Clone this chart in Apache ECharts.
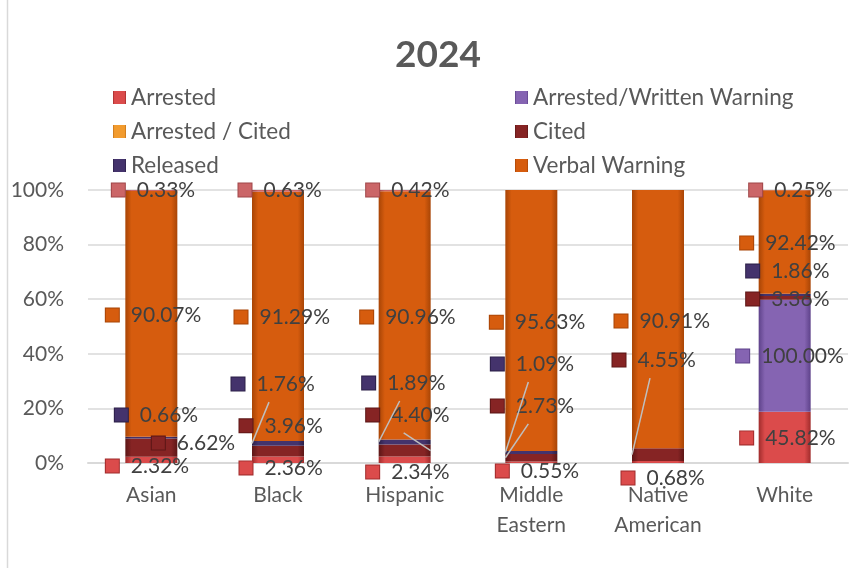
<!DOCTYPE html>
<html>
<head>
<meta charset="utf-8">
<script src="https://cdn.jsdelivr.net/npm/echarts@6/dist/echarts.min.js"></script>
<style>html,body{margin:0;padding:0;background:#fff;}#c{width:863px;height:568px;}</style>
</head>
<body>
<div id="c"></div>
<script>
// ---- data (values as printed on the chart's data labels) ----
const title = '2024';
const categories = ['Asian', 'Black', 'Hispanic', 'Middle Eastern', 'Native American', 'White'];
const arrested        = [2.32, 2.36, 2.34, 0.55, 0.68, 45.82];
const arrestedWritten = [null, null, null, null, null, 100.00];
const arrestedCited   = [null, null, null, null, null, null];
const cited           = [6.62, 3.96, 4.40, 2.73, 4.55, 3.36];
const released        = [0.66, 1.76, 1.89, 1.09, null, 1.86];
const verbalWarning   = [90.07, 91.29, 90.96, 95.63, 90.91, 92.42];
const other           = [0.33, 0.63, 0.42, null, null, 0.25]; // unlabelled top segment (no legend entry)
const yTicks = [0, 20, 40, 60, 80, 100];

// ---- styles / layout (kept apart from data) ----
const FONT = 'Lato, "Open Sans", sans-serif';
const LABEL_SIZE = 21;
const BAR_W = 52;
const seriesDefs = [
  {name: 'Arrested',                 data: arrested,        main: '#DB4B4B', dark: '#A02C2C'},
  {name: 'Arrested/Written Warning', data: arrestedWritten, main: '#8564B2', dark: '#5E428A'},
  {name: 'Arrested / Cited',         data: arrestedCited,   main: '#F29B2E', dark: '#C2721A'},
  {name: 'Cited',                    data: cited,           main: '#862424', dark: '#5C1616'},
  {name: 'Released',                 data: released,        main: '#44336C', dark: '#2C2048'},
  {name: 'Verbal Warning',           data: verbalWarning,   main: '#D65C0E', dark: '#A84506'},
  {name: 'Other',                    data: other,           main: '#CB6668', dark: '#A04648'}
];
// label anchor: [marker-centre offset from bar centre in px, vertical position on the % axis]
const labelPos = [
  [[-39,-1.1],[-32,-1.8],[-32,-3.3],[-29,-2.9],[-30,-5.5],[-38,9.2]],
  [null,null,null,null,null,[-42,39.2]],
  [null,null,null,null,null,null],
  [[7,7.3],[-32,13.6],[-32,17.6],[-34,20.9],[-39,37.7],[-32,60.1]],
  [[-30,17.6],[-40,28.9],[-36,29.3],[-34,36.3],null,[-32,70.3]],
  [[-39,54.2],[-37,53.5],[-38,53.5],[-35,51.6],[-37,52.0],[-38,80.6]],
  [[-33,100],[-33,100],[-32,100],null,null,[-29,100]]
];
// leader lines: [series index, category index, side of the bar the line reaches]
const leaders = [[4, 1, -1], [4, 2, -1], [3, 2, 1], [4, 3, -1], [3, 3, -1], [3, 4, -1]];

const totals = categories.map((_, i) => seriesDefs.reduce((s, d) => s + (d.data[i] == null ? 0 : d.data[i]), 0));
const pct = seriesDefs.map(d => d.data.map((v, i) => v == null ? null : v / totals[i] * 100));

function grad(main, dark) {
  return new echarts.graphic.LinearGradient(0, 0, 1, 0, [
    {offset: 0, color: dark}, {offset: 0.12, color: main},
    {offset: 0.88, color: main}, {offset: 1, color: dark}
  ]);
}

const chart = echarts.init(document.getElementById('c'), null, {renderer: 'canvas'});

const series = seriesDefs.map((d, si) => ({
  name: d.name,
  type: 'bar',
  stack: 'total',
  barWidth: BAR_W,
  itemStyle: {color: grad(d.main, d.dark)},
  data: d.data.map((v, i) => v == null ? null : {value: pct[si][i], raw: v}),
  label: {
    show: true,
    position: 'inside',
    formatter: p => '{m|}{t|' + p.data.raw.toFixed(2) + '%}',
    rich: {
      m: {width: 13, height: 13, backgroundColor: d.main, borderColor: d.dark, borderWidth: 1},
      t: {fontSize: LABEL_SIZE, fontFamily: FONT, color: '#404040', padding: [0, 0, 0, 12]}
    }
  },
  labelLayout: function (params) {
    const L = labelPos[si][params.dataIndex];
    if (!L) return {};
    const cx = params.rect.x + params.rect.width / 2;
    let y;
    try { y = chart.convertToPixel({yAxisIndex: 0}, L[1]); } catch (e) { y = null; }
    if (y == null || isNaN(y)) y = 190 + (100 - L[1]) / 100 * 273;
    return {x: cx + L[0] - 6.5, y: y, align: 'left', verticalAlign: 'middle'};
  }
}));

const legendCommon = {
  orient: 'vertical', icon: 'rect', itemWidth: 13, itemHeight: 13, itemGap: 11, padding: 0,
  textStyle: {fontSize: 22.5, fontFamily: FONT, color: '#595959', lineHeight: 22.5},
  selectedMode: false
};

chart.setOption({
  animation: false,
  backgroundColor: '#fff',
  title: {
    text: title, left: 395, top: 37, padding: 0,
    textStyle: {fontSize: 37, fontWeight: 'bold', fontFamily: FONT, color: '#595959'}
  },
  legend: [
    Object.assign({left: 113, top: 86, data: ['Arrested', 'Arrested / Cited', 'Released']}, legendCommon),
    Object.assign({left: 515, top: 86, data: ['Arrested/Written Warning', 'Cited', 'Verbal Warning']}, legendCommon)
  ],
  grid: {left: 88, right: 15, top: 190, bottom: 105},
  xAxis: {
    type: 'category', data: categories,
    axisLine: {lineStyle: {color: '#D9D9D9', width: 2}},
    axisTick: {show: false},
    axisLabel: {
      fontSize: 21, fontFamily: FONT, color: '#595959', lineHeight: 30, margin: 17,
      interval: 0, formatter: v => v.replace(' ', '\n')
    }
  },
  yAxis: {
    type: 'value', min: yTicks[0], max: yTicks[yTicks.length - 1], interval: yTicks[1] - yTicks[0],
    axisLine: {show: false}, axisTick: {show: false},
    splitLine: {lineStyle: {color: '#D9D9D9', width: 1.5}},
    axisLabel: {formatter: '{value}%', fontSize: 21, fontFamily: FONT, color: '#595959', margin: 24}
  },
  series: series
});

// leader lines from moved labels back to their (thin) bar segments, placed via the chart's own scales
const graphics = [{
  type: 'line', shape: {x1: 7.5, y1: 0, x2: 7.5, y2: 568},
  style: {stroke: '#D9D9D9', lineWidth: 1.5}, silent: true
}];
leaders.forEach(([si, ci, side]) => {
  let base = 0;
  for (let k = 0; k < si; k++) base += pct[k][ci] || 0;
  const mid = base + pct[si][ci] / 2;
  const L = labelPos[si][ci];
  const segPt = chart.convertToPixel({seriesIndex: si}, [ci, mid]);
  const lblPt = chart.convertToPixel({seriesIndex: si}, [ci, L[1]]);
  graphics.push({
    type: 'line', silent: true, z: 10,
    shape: {x1: lblPt[0] + L[0] + 31, y1: lblPt[1] + 18, x2: segPt[0] + side * BAR_W / 2, y2: segPt[1]},
    style: {stroke: '#BFBFBF', lineWidth: 1.5}
  });
});
chart.setOption({graphic: graphics});
</script>
</body>
</html>
